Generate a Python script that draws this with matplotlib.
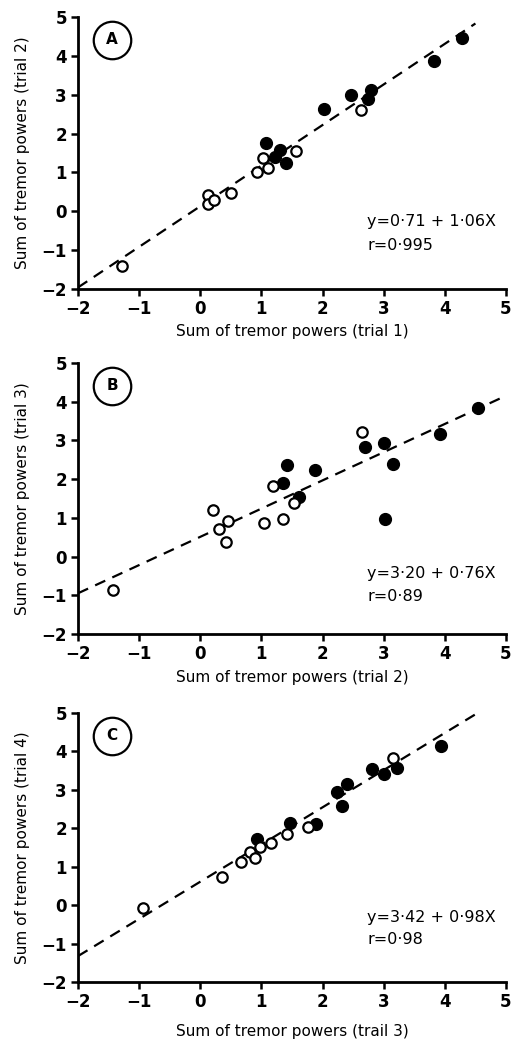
import matplotlib
matplotlib.use("Agg")
import matplotlib.pyplot as plt
import numpy as np

# ---------------- data ----------------
# Panel A: trial 1 vs trial 2
a_open_x = [-1.28, 0.12, 0.12, 0.22, 0.50, 0.92, 1.03, 1.10, 1.57, 2.63]
a_open_y = [-1.40, 0.43, 0.19, 0.30, 0.48, 1.01, 1.36, 1.12, 1.55, 2.61]
a_fill_x = [1.07, 1.23, 1.31, 1.41, 2.02, 2.47, 2.75, 2.80, 3.82, 4.28]
a_fill_y = [1.77, 1.40, 1.57, 1.25, 2.64, 2.98, 2.90, 3.12, 3.87, 4.47]
a_line = (0.13, 1.045, -2.0, 4.5)   # intercept, slope, x start, x end
a_eq = ["y=0·71 + 1·06X", "r=0·995"]

# Panel B: trial 2 vs trial 3
b_open_x = [-1.42, 0.21, 0.30, 0.45, 0.42, 1.04, 1.19, 1.35, 1.54, 2.65]
b_open_y = [-0.86, 1.20, 0.72, 0.91, 0.37, 0.86, 1.81, 0.97, 1.38, 3.22]
b_fill_x = [1.35, 1.42, 1.62, 1.87, 2.70, 3.01, 3.15, 3.02, 3.92, 4.54]
b_fill_y = [1.90, 2.37, 1.53, 2.24, 2.83, 2.93, 2.39, 0.97, 3.17, 3.84]
b_line = (0.51, 0.729, -2.0, 5.0)
b_eq = ["y=3·20 + 0·76X", "r=0·89"]

# Panel C: trial 3 vs trial 4
c_open_x = [-0.93, 0.36, 0.67, 0.82, 0.89, 0.98, 1.16, 1.42, 1.76, 3.16]
c_open_y = [-0.08, 0.72, 1.13, 1.37, 1.22, 1.52, 1.61, 1.85, 2.04, 3.83]
c_fill_x = [0.92, 1.46, 1.90, 2.23, 2.32, 2.40, 2.81, 3.00, 3.22, 3.93]
c_fill_y = [1.71, 2.13, 2.10, 2.95, 2.57, 3.14, 3.53, 3.40, 3.58, 4.14]
c_line = (0.61, 0.968, -2.0, 4.6)
c_eq = ["y=3·42 + 0·98X", "r=0·98"]

panel_letters = ["A", "B", "C"]
xlabels = ["Sum of tremor powers (trial 1)", "Sum of tremor powers (trial 2)",
           "Sum of tremor powers (trail 3)"]
ylabels = ["Sum of tremor powers (trial 2)", "Sum of tremor powers (trial 3)",
           "Sum of tremor powers (trial 4)"]
ticks = [-2, -1, 0, 1, 2, 3, 4, 5]
tick_labels = ["−2", "−1", "0", "1", "2", "3", "4", "5"]

panels = [
    (a_open_x, a_open_y, a_fill_x, a_fill_y, a_line, a_eq, (-0.27, -0.87)),
    (b_open_x, b_open_y, b_fill_x, b_fill_y, b_line, b_eq, (-0.45, -1.04)),
    (c_open_x, c_open_y, c_fill_x, c_fill_y, c_line, c_eq, (-0.31, -0.89)),
]

# ---------------- figure ----------------
W, H = 513, 1039
fig = plt.figure(figsize=(W / 100, H / 100), dpi=100)
plt.rcParams['font.family'] = ['DejaVu Sans']

# axes boxes in pixels: (left, top, right, bottom)
boxes = [(78, 17, 506, 289), (78, 363, 506, 634), (78, 713, 506, 982)]
labelpads = [4, 5, 9]

for i, (ox, oy, fx, fy, line, eq, eqy) in enumerate(panels):
    l, t, r, b = boxes[i]
    ax = fig.add_axes([l / W, 1 - b / H, (r - l) / W, (b - t) / H])
    ax.set_xlim(-2, 5)
    ax.set_ylim(-2, 5)
    for s in ["top", "right"]:
        ax.spines[s].set_visible(False)
    for s in ["left", "bottom"]:
        ax.spines[s].set_linewidth(2.0)
    ax.set_xticks(ticks)
    ax.set_yticks(ticks)
    ax.set_xticklabels(tick_labels, fontweight="bold", fontsize=12)
    ax.set_yticklabels(tick_labels, fontweight="bold", fontsize=12)
    ax.tick_params(direction="out", length=5, width=1.8, pad=3)

    inter, slope, x0, x1 = line
    xs = np.array([x0, x1])
    ax.plot(xs, inter + slope * xs, color="black", lw=1.6,
            dashes=(5, 3.5), zorder=1)
    ax.plot(ox, oy, "o", mfc="white", mec="black", mew=1.6, ms=7.5,
            zorder=3, clip_on=False)
    ax.plot(fx, fy, "o", mfc="black", mec="black", ms=8.5, zorder=2,
            clip_on=False)

    # panel letter in circle
    ax.plot([-1.44], [4.41], "o", mfc="none", mec="black", mew=1.6, ms=27)
    ax.text(-1.44, 4.41, panel_letters[i], ha="center", va="center",
            fontweight="bold", fontsize=11)

    ax.text(2.73, eqy[0], eq[0], ha="left", va="center", fontsize=11.5)
    ax.text(2.73, eqy[1], eq[1], ha="left", va="center", fontsize=11.5)

    ax.set_xlabel(xlabels[i], fontsize=11, labelpad=labelpads[i])
    ax.set_ylabel(ylabels[i], fontsize=11, labelpad=8)

fig.savefig("out.png", dpi=100)
